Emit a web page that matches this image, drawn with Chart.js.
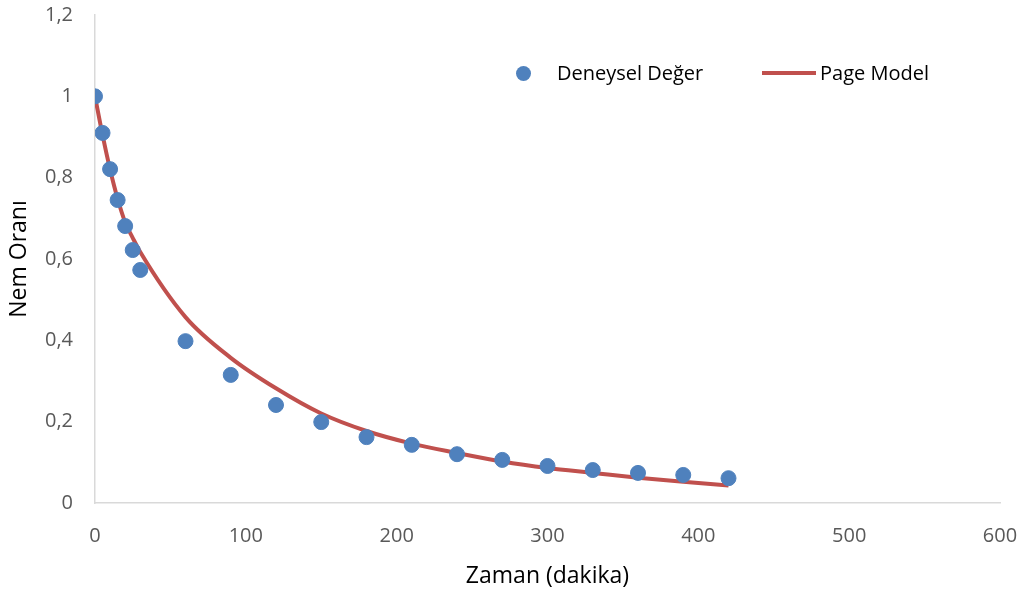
<!DOCTYPE html>
<html>
<head>
<meta charset="utf-8">
<script src="https://cdn.jsdelivr.net/npm/chart.js@4.4.1/dist/chart.umd.min.js"></script>
<style>
  body { margin: 0; background: #fff; }
  #wrap { position: relative; width: 1028px; height: 594px; }
  .legend { position: absolute; top: 59px; height: 28px; line-height: 28px; font-family: "Open Sans", sans-serif; font-size: 20px; color: #000; display: flex; align-items: center; }
  .dot { width: 15px; height: 15px; border-radius: 50%; background: #4f81bd; display: inline-block; }
  .ln { width: 54px; height: 4px; background: #c0504d; display: inline-block; }
</style>
</head>
<body>
<div id="wrap">
  <canvas id="chart" width="1028" height="594"></canvas>
  <div class="legend" style="left:516px;"><span class="dot"></span><span style="margin-left:26px;">Deneysel Değer</span></div>
  <div class="legend" style="left:762px;"><span class="ln"></span><span style="margin-left:4px;">Page Model</span></div>
</div>
<script>
// time (minutes)
const times = [0, 5, 10, 15, 20, 25, 30, 60, 90, 120, 150, 180, 210, 240, 270, 300, 330, 360, 390, 420];
// measured moisture ratio
const experimental = [1.0, 0.91, 0.821, 0.745, 0.681, 0.622, 0.573, 0.398, 0.315, 0.241, 0.199, 0.162, 0.143, 0.120, 0.106, 0.091, 0.081, 0.074, 0.069, 0.061];
// Page model prediction
const pageModel = [1.0, 0.905, 0.82, 0.748, 0.69, 0.652, 0.617, 0.457, 0.357, 0.282, 0.22, 0.177, 0.146, 0.123, 0.102, 0.086, 0.074, 0.062, 0.052, 0.043];

const toXY = (xs, ys) => xs.map((x, i) => ({ x: x, y: ys[i] }));
const fmt = v => String(Number(v.toFixed(1))).replace('.', ',');
const family = '"Open Sans", sans-serif';

new Chart(document.getElementById('chart').getContext('2d'), {
  type: 'scatter',
  data: {
    datasets: [
      {
        label: 'Deneysel Değer',
        data: toXY(times, experimental),
        backgroundColor: '#4f81bd',
        borderColor: '#4f81bd',
        pointRadius: 7.5,
        showLine: false
      },
      {
        label: 'Page Model',
        data: toXY(times, pageModel),
        borderColor: '#c0504d',
        backgroundColor: '#c0504d',
        borderWidth: 4,
        pointRadius: 0,
        showLine: true,
        cubicInterpolationMode: 'monotone'
      }
    ]
  },
  options: {
    responsive: false,
    animation: false,
    layout: { padding: { top: 15, right: 28, left: 0, bottom: 0 } },
    plugins: { legend: { display: false }, tooltip: { enabled: false } },
    scales: {
      x: {
        type: 'linear',
        min: 0, max: 600,
        ticks: { stepSize: 100, color: '#595959', font: { family: family, size: 20 }, padding: 21 },
        grid: { display: false, drawTicks: false },
        border: { display: true, color: '#d9d9d9', width: 1.5 },
        title: { display: true, text: 'Zaman (dakika)', color: '#000', font: { family: family, size: 23 }, padding: { top: 4, bottom: 4 } },
        afterFit: s => { s.height = 91; s.paddingLeft = 0; s.paddingRight = 0; }
      },
      y: {
        min: 0, max: 1.2,
        ticks: { stepSize: 0.2, color: '#595959', font: { family: family, size: 20 }, padding: 22, callback: v => fmt(v) },
        grid: { display: false, drawTicks: false },
        border: { display: true, color: '#d9d9d9', width: 1.5 },
        title: { display: true, text: 'Nem Oranı', color: '#000', font: { family: family, size: 23 }, padding: { top: 6, bottom: 4 } },
        afterFit: s => { s.width = 95; s.paddingTop = 0; s.paddingBottom = 0; }
      }
    }
  }
});
</script>
</body>
</html>
